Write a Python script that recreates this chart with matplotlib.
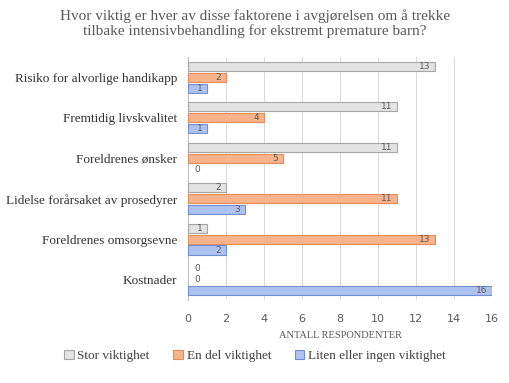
import matplotlib.pyplot as plt
import numpy as np

categories = ['Risiko for alvorlige handikapp', 'Fremtidig livskvalitet', 'Foreldrenes ønsker',
              'Lidelse forårsaket av prosedyrer', 'Foreldrenes omsorgsevne', 'Kostnader']
stor = [13, 11, 11, 2, 1, 0]
en_del = [2, 4, 5, 11, 13, 0]
liten = [1, 1, 0, 3, 2, 16]
series_names = ['Stor viktighet', 'En del viktighet', 'Liten eller ingen viktighet']

face = ['#e3e3e3', '#f7b48c', '#aec2f0']
edge = ['#a6a6a6', '#e58c5a', '#6f8fd2']
serif = 'Liberation Serif'
grey = '#595959'

fig = plt.figure(figsize=(5.1, 3.83), dpi=100)
ax = fig.add_axes([0.369, 0.217, 0.596, 0.634])

y = np.arange(len(categories))
off = 0.27
h = 0.23
for i, vals in enumerate([stor, en_del, liten]):
    pos = y + (i - 1) * off
    vals = np.array(vals)
    lw = np.where(vals > 0, 0.8, 0)
    ax.barh(pos, vals, height=h, color=face[i], edgecolor=edge[i], linewidth=lw,
            label=series_names[i], zorder=3)
    for p, v in zip(pos, vals):
        if v > 0:
            ax.text(v - 0.25, p, str(v), ha='right', va='center', fontsize=6.5,
                    color=grey, family='DejaVu Sans', zorder=4)
        else:
            ax.text(0.3, p, '0', ha='left', va='center', fontsize=6.5,
                    color=grey, family='DejaVu Sans', zorder=4)

ax.set_ylim(len(categories) - 0.5, -0.5)
ax.set_xlim(0, 16)
ax.set_xticks(range(0, 17, 2))
ax.set_yticks(y)
ax.set_yticklabels(categories, family=serif, fontsize=9.5, color='#333333')
ax.tick_params(axis='x', labelsize=8, colors=grey, length=0, pad=10)
ax.tick_params(axis='y', length=0, pad=8)
ax.grid(axis='x', color='#d9d9d9', linewidth=0.7, zorder=0)
for s in ['top', 'right', 'bottom']:
    ax.spines[s].set_visible(False)
ax.spines['left'].set_color('#bfbfbf')

ax.set_xlabel('ANTALL RESPONDENTER', family=serif, fontsize=7.5, color=grey, labelpad=5)
fig.text(0.5, 0.975, 'Hvor viktig er hver av disse faktorene i avgjørelsen om å trekke\n'
         'tilbake intensivbehandling for ekstremt premature barn?',
         ha='center', va='top', family=serif, fontsize=11, color=grey, linespacing=1.05)

fig.legend(loc='center', bbox_to_anchor=(0.5, 0.07), ncol=3, frameon=False,
           prop={'family': serif, 'size': 9.5}, handlelength=0.7, handleheight=0.7,
           handletextpad=0.3, columnspacing=1.8, labelcolor='#404040')

fig.savefig('out.png', dpi=100)
